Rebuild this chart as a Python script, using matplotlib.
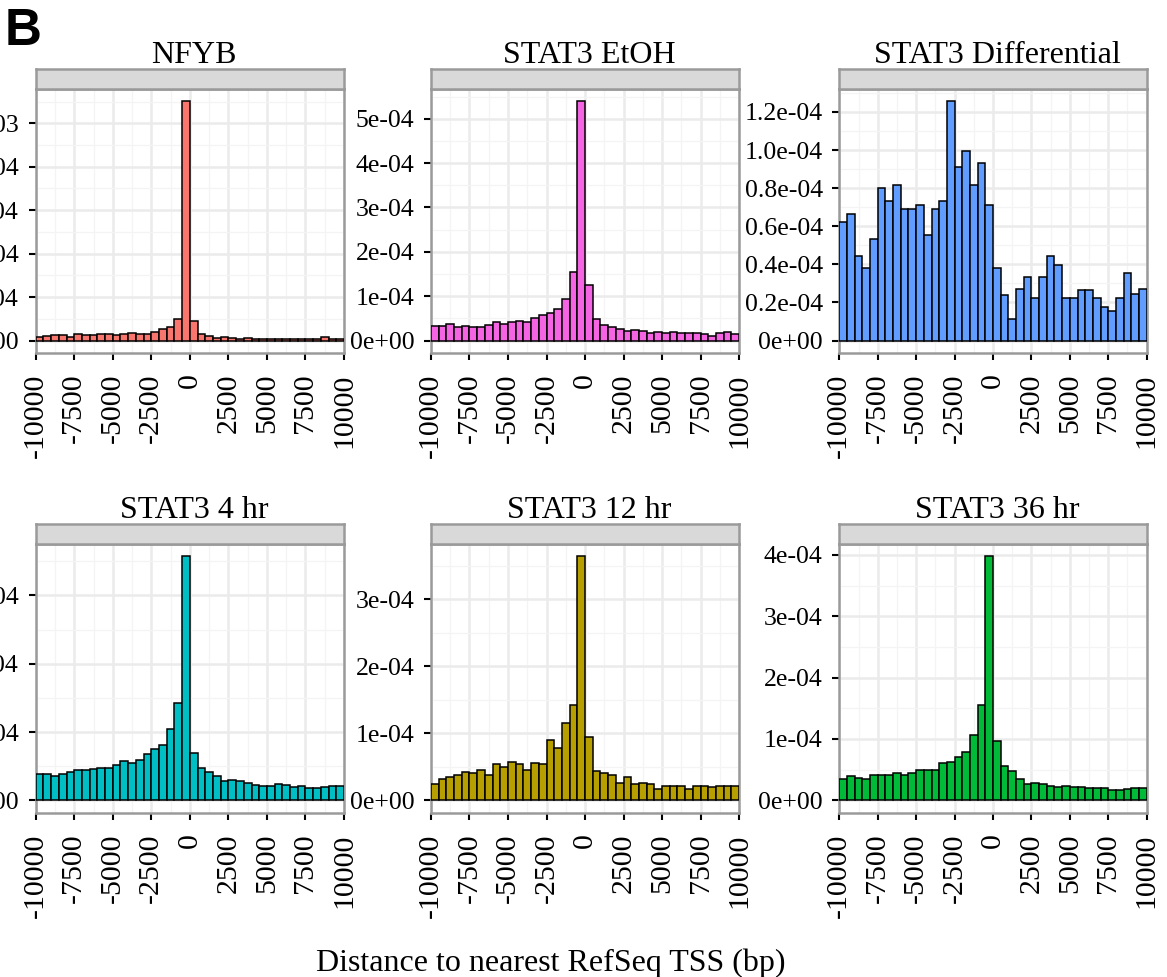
import matplotlib
matplotlib.use("Agg")
import matplotlib.pyplot as plt
import numpy as np

plt.rcParams["font.family"] = ["Liberation Serif", "DejaVu Serif"]

# histogram bins (distance to TSS, bp)
bin_edges = np.linspace(-10000, 10000, 41)

# bar heights (density), in units of 1e-4
nfyb = [0.17, 0.23, 0.27, 0.27, 0.17, 0.30, 0.24, 0.24, 0.30, 0.30,
        0.26, 0.30, 0.36, 0.32, 0.32, 0.41, 0.54, 0.62, 1.01, 11.05,
        0.92, 0.30, 0.20, 0.12, 0.17, 0.12, 0.08, 0.12, 0.08, 0.08,
        0.08, 0.08, 0.08, 0.08, 0.08, 0.08, 0.08, 0.14, 0.08, 0.08]
etoh = [0.32, 0.32, 0.38, 0.30, 0.33, 0.31, 0.31, 0.36, 0.42, 0.38,
        0.41, 0.43, 0.41, 0.50, 0.58, 0.62, 0.70, 0.94, 1.54, 5.41,
        1.26, 0.48, 0.36, 0.31, 0.25, 0.21, 0.24, 0.21, 0.16, 0.19,
        0.16, 0.19, 0.17, 0.17, 0.17, 0.14, 0.11, 0.16, 0.19, 0.14]
differential = [0.620, 0.666, 0.444, 0.379, 0.535, 0.800, 0.730, 0.819, 0.688, 0.688,
                0.709, 0.554, 0.690, 0.730, 1.260, 0.912, 0.993, 0.819, 0.931, 0.709,
                0.379, 0.241, 0.112, 0.269, 0.334, 0.224, 0.334, 0.444, 0.399, 0.224,
                0.224, 0.267, 0.267, 0.224, 0.176, 0.157, 0.224, 0.353, 0.243, 0.269]
hr4 = [0.38, 0.39, 0.36, 0.39, 0.42, 0.44, 0.44, 0.46, 0.47, 0.47,
       0.51, 0.57, 0.55, 0.59, 0.68, 0.75, 0.81, 1.05, 1.43, 3.575,
       0.70, 0.47, 0.42, 0.35, 0.28, 0.30, 0.28, 0.25, 0.22, 0.21,
       0.21, 0.24, 0.22, 0.20, 0.21, 0.175, 0.175, 0.19, 0.21, 0.21]
hr12 = [0.25, 0.32, 0.34, 0.37, 0.42, 0.41, 0.45, 0.37, 0.54, 0.50,
        0.57, 0.54, 0.45, 0.56, 0.54, 0.90, 0.78, 1.16, 1.42, 3.64,
        0.94, 0.43, 0.41, 0.38, 0.26, 0.34, 0.25, 0.26, 0.24, 0.17,
        0.21, 0.22, 0.22, 0.17, 0.22, 0.22, 0.20, 0.21, 0.21, 0.21]
hr36 = [0.35, 0.39, 0.37, 0.35, 0.41, 0.42, 0.42, 0.44, 0.42, 0.44,
        0.50, 0.50, 0.50, 0.60, 0.62, 0.70, 0.78, 1.06, 1.56, 3.98,
        0.96, 0.56, 0.48, 0.34, 0.27, 0.29, 0.27, 0.23, 0.21, 0.23,
        0.22, 0.22, 0.20, 0.20, 0.20, 0.17, 0.17, 0.18, 0.20, 0.20]

titles = ["NFYB", "STAT3 EtOH", "STAT3 Differential",
          "STAT3 4 hr", "STAT3 12 hr", "STAT3 36 hr"]
series = [nfyb, etoh, differential, hr4, hr12, hr36]
colors = ["#F8766D", "#F564E3", "#619CFF", "#00BFC4", "#B79F00", "#00BA38"]

x_ticks = [-10000, -7500, -5000, -2500, 0, 2500, 5000, 7500, 10000]
x_labels = ["-10000", "-7500", "-5000", "-2500", "0", "2500", "5000", "7500", "10000"]

y_ticks = [
    [0, 2e-4, 4e-4, 6e-4, 8e-4, 1e-3],
    [0, 1e-4, 2e-4, 3e-4, 4e-4, 5e-4],
    [0, 0.2e-4, 0.4e-4, 0.6e-4, 0.8e-4, 1.0e-4, 1.2e-4],
    [0, 1e-4, 2e-4, 3e-4],
    [0, 1e-4, 2e-4, 3e-4],
    [0, 1e-4, 2e-4, 3e-4, 4e-4],
]
y_labels = [
    ["0e+00", "2e-04", "4e-04", "6e-04", "8e-04", "1e-03"],
    ["0e+00", "1e-04", "2e-04", "3e-04", "4e-04", "5e-04"],
    ["0e+00", "0.2e-04", "0.4e-04", "0.6e-04", "0.8e-04", "1.0e-04", "1.2e-04"],
    ["0e+00", "1e-04", "2e-04", "3e-04"],
    ["0e+00", "1e-04", "2e-04", "3e-04"],
    ["0e+00", "1e-04", "2e-04", "3e-04", "4e-04"],
]

W, H = 1167, 977
fig = plt.figure(figsize=(W / 100, H / 100), dpi=100)


def box(x0, y0, x1, y1):
    # pixel box (top-left origin) -> figure fraction
    return [x0 / W, 1 - y1 / H, (x1 - x0) / W, (y1 - y0) / H]


cols = [(35.7, 344), (431, 739), (839.3, 1146.7)]
rows = [(69, 88.5, 352.5), (524, 544, 812.5)]  # strip top, plot top, plot bottom
border = "#9A9A9A"

for i in range(6):
    x0, x1 = cols[i % 3]
    st, pt, pb = rows[i // 3]
    vals = np.array(series[i]) * 1e-4

    ax = fig.add_axes(box(x0, pt, x1, pb))
    ax.bar(bin_edges[:-1], vals, width=np.diff(bin_edges), align="edge",
           color=colors[i], edgecolor="black", linewidth=1.1, zorder=3)
    top = vals.max()
    ax.set_xlim(bin_edges[0], bin_edges[-1])
    ax.set_ylim(-0.05 * top, 1.05 * top)

    ax.set_xticks(x_ticks)
    ax.set_xticklabels(x_labels, rotation=90, fontsize=21.5)
    ax.set_xticks(np.arange(-8750, 10000, 2500), minor=True)
    yt = y_ticks[i]
    ax.set_yticks(yt)
    ax.set_yticklabels(y_labels[i], fontsize=18.5)
    step = yt[1] - yt[0]
    ax.set_yticks(np.arange(step / 2, 1.05 * top, step), minor=True)

    ax.set_axisbelow(True)
    ax.grid(which="major", color="#EBEBEB", linewidth=1.8)
    ax.grid(which="minor", color="#F4F4F4", linewidth=0.9)
    ax.tick_params(which="major", length=5, width=1.5, color="black")
    ax.tick_params(axis="x", pad=10)
    ax.tick_params(axis="y", pad=7)
    ax.tick_params(which="minor", length=0)
    for s in ax.spines.values():
        s.set_color(border)
        s.set_linewidth(1.8)

    sax = fig.add_axes(box(x0, st, x1, pt))
    sax.set_facecolor("#D9D9D9")
    sax.set_xticks([])
    sax.set_yticks([])
    for s in sax.spines.values():
        s.set_color(border)
        s.set_linewidth(1.8)

    fig.text(((x0 + x1) / 2 + 4) / W, 1 - (st - 6) / H, titles[i],
             ha="center", va="baseline", fontsize=23)

fig.text(551 / W, 1 - 971 / H, "Distance to nearest RefSeq TSS (bp)",
         ha="center", va="baseline", fontsize=23)
fig.text(5 / W, 1 - 45 / H, "B", ha="left", va="baseline", fontsize=37,
         fontweight="bold", family="Liberation Sans")

fig.savefig("out.png", dpi=100)
